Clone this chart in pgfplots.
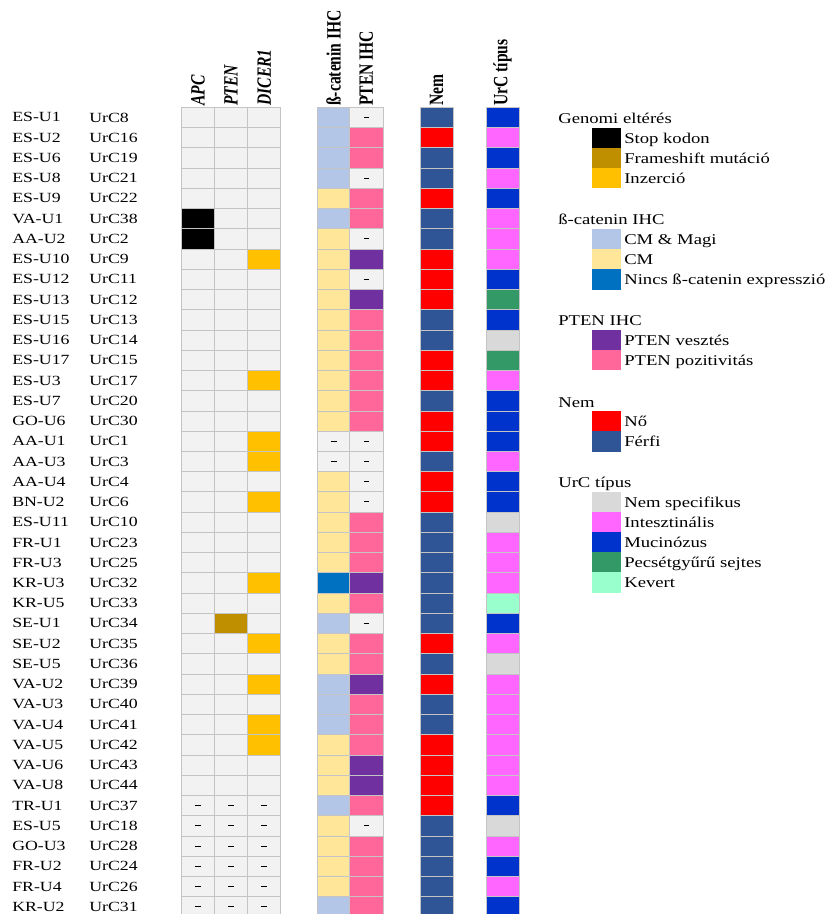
\documentclass[border=0pt]{standalone}
\usepackage{pgfplots}
\pgfplotsset{compat=1.18}
\usepackage{pgfplotstable}
\usepackage{fontspec}
\setmainfont{Liberation Serif}

\definecolor{cB}{HTML}{C4C4C4}
\definecolor{cE}{HTML}{F2F2F2}
\definecolor{cStop}{HTML}{000000}
\definecolor{cFs}{HTML}{BF8F00}
\definecolor{cIns}{HTML}{FFC000}
\definecolor{cCmm}{HTML}{B4C6E7}
\definecolor{cCm}{HTML}{FFE699}
\definecolor{cNincs}{HTML}{0070C0}
\definecolor{cLoss}{HTML}{7030A0}
\definecolor{cPos}{HTML}{FF6699}
\definecolor{cNo}{HTML}{FF0000}
\definecolor{cFf}{HTML}{2F5597}
\definecolor{cNsp}{HTML}{D9D9D9}
\definecolor{cInt}{HTML}{FF66FF}
\definecolor{cMuc}{HTML}{0033CC}
\definecolor{cPec}{HTML}{339966}
\definecolor{cKev}{HTML}{99FFCC}

\pgfdeclareplotmark{cell}{%
  \pgfsetstrokecolor{cB}\pgfsetlinewidth{0.6pt}%
  \pgfpathrectangle{\pgfpoint{-12.45pt}{-7.59pt}}{\pgfpoint{24.9pt}{15.18pt}}%
  \pgfusepathqfillstroke}
\pgfdeclareplotmark{cellna}{%
  \pgfsetfillcolor{cE}\pgfsetstrokecolor{cB}\pgfsetlinewidth{0.6pt}%
  \pgfpathrectangle{\pgfpoint{-12.45pt}{-7.59pt}}{\pgfpoint{24.9pt}{15.18pt}}%
  \pgfusepathqfillstroke
  \pgfsetstrokecolor{black}\pgfsetlinewidth{0.75pt}%
  \pgfpathmoveto{\pgfpoint{-2.1pt}{0pt}}\pgfpathlineto{\pgfpoint{2.1pt}{0pt}}%
  \pgfusepathqstroke}
\pgfdeclareplotmark{lsw}{%
  \pgfpathrectangle{\pgfpoint{-11pt}{-7.65pt}}{\pgfpoint{22pt}{15.3pt}}%
  \pgfusepathqfill}

\pgfplotsset{cls/.style={scatter/classes={
  e={mark=#1,fill=cE}, na={mark=cellna},
  stop={mark=#1,fill=cStop}, fs={mark=#1,fill=cFs}, ins={mark=#1,fill=cIns},
  cmm={mark=#1,fill=cCmm}, cm={mark=#1,fill=cCm}, nincs={mark=#1,fill=cNincs},
  loss={mark=#1,fill=cLoss}, pos={mark=#1,fill=cPos},
  no={mark=#1,fill=cNo}, ff={mark=#1,fill=cFf},
  nsp={mark=#1,fill=cNsp}, int={mark=#1,fill=cInt}, muc={mark=#1,fill=cMuc},
  pec={mark=#1,fill=cPec}, kev={mark=#1,fill=cKev}}}}

\newcommand\rl[1]{\scalebox{1.27}[1]{#1}}
\newcommand\hd[1]{\scalebox{1}[1.3]{\fontsize{11.7}{13}\selectfont\bfseries #1}}

\pgfplotstableread{
r code urc apc pten dicer bcat pihc nem typ
1 ES-U1 UrC8 e e e cmm na ff muc
2 ES-U2 UrC16 e e e cmm pos no int
3 ES-U6 UrC19 e e e cmm pos ff muc
4 ES-U8 UrC21 e e e cmm na ff int
5 ES-U9 UrC22 e e e cm pos no muc
6 VA-U1 UrC38 stop e e cmm pos ff int
7 AA-U2 UrC2 stop e e cm na ff int
8 ES-U10 UrC9 e e ins cm loss no int
9 ES-U12 UrC11 e e e cm na no muc
10 ES-U13 UrC12 e e e cm loss no pec
11 ES-U15 UrC13 e e e cm pos ff muc
12 ES-U16 UrC14 e e e cm pos ff nsp
13 ES-U17 UrC15 e e e cm pos no pec
14 ES-U3 UrC17 e e ins cm pos no int
15 ES-U7 UrC20 e e e cm pos ff muc
16 GO-U6 UrC30 e e e cm pos no muc
17 AA-U1 UrC1 e e ins na na no muc
18 AA-U3 UrC3 e e ins na na ff int
19 AA-U4 UrC4 e e e cm na no muc
20 BN-U2 UrC6 e e ins cm na no muc
21 ES-U11 UrC10 e e e cm pos ff nsp
22 FR-U1 UrC23 e e e cm pos ff int
23 FR-U3 UrC25 e e e cm pos ff int
24 KR-U3 UrC32 e e ins nincs loss ff int
25 KR-U5 UrC33 e e e cm pos ff kev
26 SE-U1 UrC34 e fs e cmm na ff muc
27 SE-U2 UrC35 e e ins cm pos no int
28 SE-U5 UrC36 e e e cm pos ff nsp
29 VA-U2 UrC39 e e ins cmm loss no int
30 VA-U3 UrC40 e e e cmm pos ff int
31 VA-U4 UrC41 e e ins cmm pos ff int
32 VA-U5 UrC42 e e ins cm pos no int
33 VA-U6 UrC43 e e e cm loss no int
34 VA-U8 UrC44 e e e cm loss no int
35 TR-U1 UrC37 na na na cmm pos no muc
36 ES-U5 UrC18 na na na cm na ff nsp
37 GO-U3 UrC28 na na na cm pos ff int
38 FR-U2 UrC24 na na na cm pos ff muc
39 FR-U4 UrC26 na na na cm pos ff int
40 KR-U2 UrC31 na na na cmm pos ff muc
}\data

\pgfplotstableread{
y cls
138.3 stop
158.3 fs
178.0 ins
239.0 cmm
259.0 cm
279.5 nincs
340.0 loss
360.0 pos
421.0 no
441.3 ff
502.0 nsp
522.0 int
542.0 muc
562.5 pec
582.5 kev
}\legsw

\pgfplotstableread[col sep=comma]{
x,y,txt
558,123,Genomi eltérés
624,143.3,Stop kodon
624,163.3,Frameshift mutáció
624,183,Inzerció
558,224,ß-catenin IHC
624,244,CM \& Magi
624,264,CM
624,284.5,Nincs ß-catenin expresszió
558,325,PTEN IHC
624,345,PTEN vesztés
624,365,PTEN pozitivitás
558,407,Nem
624,426,Nő
624,446.3,Férfi
558,487,UrC típus
624,507,Nem specifikus
624,527,Intesztinális
624,547,Mucinózus
624,567.5,Pecsétgyűrű sejtes
624,587.5,Kevert
}\legtxt

\begin{document}
\begin{tikzpicture}
\begin{axis}[
  scale only axis, width=621.75pt, height=685.5pt,
  xmin=0, xmax=829, ymin=0, ymax=914, y dir=reverse,
  hide axis, clip=false,
]
\pgfplotsset{cellplot/.style={scatter, only marks, scatter src=explicit symbolic, cls=cell}}
\addplot[cellplot] table[x expr=198,   y expr=97.18+20.24*\thisrow{r}, meta=apc]   {\data};
\addplot[cellplot] table[x expr=231,   y expr=97.18+20.24*\thisrow{r}, meta=pten]  {\data};
\addplot[cellplot] table[x expr=264.2, y expr=97.18+20.24*\thisrow{r}, meta=dicer] {\data};
\addplot[cellplot] table[x expr=333.7, y expr=97.18+20.24*\thisrow{r}, meta=bcat]  {\data};
\addplot[cellplot] table[x expr=366.3, y expr=97.18+20.24*\thisrow{r}, meta=pihc]  {\data};
\addplot[cellplot] table[x expr=436.7, y expr=97.18+20.24*\thisrow{r}, meta=nem]   {\data};
\addplot[cellplot] table[x expr=502.5, y expr=97.18+20.24*\thisrow{r}, meta=typ]   {\data};

% row labels
\addplot[draw=none, mark=none, point meta=explicit symbolic,
  nodes near coords={\rl{\pgfplotspointmeta}}, nodes near coords align={anchor=west},
  every node near coord/.append style={anchor=west, inner sep=0pt, font=\fontsize{10.5}{12}\selectfont}]
  table[x expr=12, y expr=97.18+20.24*\thisrow{r}, meta=code] {\data};
\addplot[draw=none, mark=none, point meta=explicit symbolic,
  nodes near coords={\rl{\pgfplotspointmeta}}, nodes near coords align={anchor=west},
  every node near coord/.append style={anchor=west, inner sep=0pt, font=\fontsize{10.5}{12}\selectfont}]
  table[x expr=89, y expr=97.18+20.24*\thisrow{r}, meta=urc] {\data};

% legend swatches and texts
\addplot[scatter, only marks, scatter src=explicit symbolic, cls=lsw]
  table[x expr=606.3, y=y, meta=cls] {\legsw};
\addplot[draw=none, mark=none, point meta=explicit symbolic,
  nodes near coords={\scalebox{1.25}[1]{\pgfplotspointmeta}}, nodes near coords align={anchor=base west},
  every node near coord/.append style={anchor=base west, inner sep=0pt, font=\fontsize{11.2}{13}\selectfont}]
  table[x=x, y=y, meta=txt] {\legtxt};

% column headers
\node[rotate=90, anchor=west, inner sep=0pt] at (axis cs:198,106)   {\hd{\itshape APC}};
\node[rotate=90, anchor=west, inner sep=0pt] at (axis cs:231,106)   {\hd{\itshape PTEN}};
\node[rotate=90, anchor=west, inner sep=0pt] at (axis cs:264.2,106) {\hd{\itshape DICER1}};
\node[rotate=90, anchor=west, inner sep=0pt] at (axis cs:333.7,106) {\hd{ß-catenin IHC}};
\node[rotate=90, anchor=west, inner sep=0pt] at (axis cs:366.3,106) {\hd{PTEN IHC}};
\node[rotate=90, anchor=west, inner sep=0pt] at (axis cs:436.7,106) {\hd{Nem}};
\node[rotate=90, anchor=west, inner sep=0pt] at (axis cs:502.5,106) {\hd{UrC típus}};
\end{axis}
\pgfresetboundingbox
\useasboundingbox (0,0) rectangle (621.75pt,685.5pt);
\end{tikzpicture}
\end{document}
